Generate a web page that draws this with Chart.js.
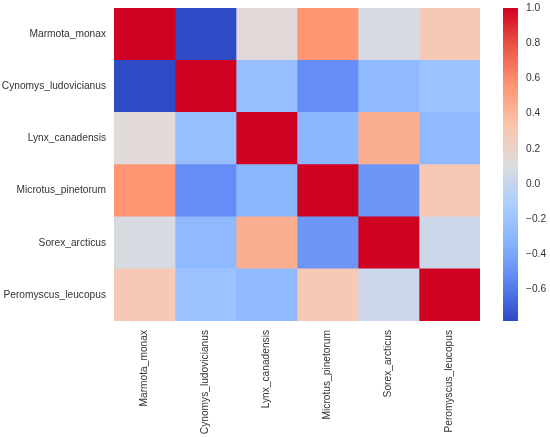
<!DOCTYPE html>
<html>
<head>
<meta charset="utf-8">
<script src="https://cdn.jsdelivr.net/npm/chart.js@4"></script>
<style>
  body { margin: 0; background: #fff; overflow: hidden; }
  #wrap { position: relative; width: 550px; height: 437px; overflow: hidden; }
  #heat { position: absolute; left: 0; top: -6px; }
  #bar { position: absolute; left: 490px; top: -6px; }
</style>
</head>
<body>
<div id="wrap">
  <canvas id="heat" width="490" height="443"></canvas>
  <canvas id="bar" width="60" height="443"></canvas>
</div>
<script>
// species, same order for rows and columns
const species = [
  'Marmota_monax',
  'Cynomys_ludovicianus',
  'Lynx_canadensis',
  'Microtus_pinetorum',
  'Sorex_arcticus',
  'Peromyscus_leucopus'
];

// correlation rows
const rowMarmota    = [ 1.00, -0.78,  0.13,  0.56,  0.08,  0.29];
const rowCynomys    = [-0.78,  1.00, -0.24, -0.51, -0.28, -0.21];
const rowLynx       = [ 0.13, -0.24,  1.00, -0.31,  0.44, -0.28];
const rowMicrotus   = [ 0.56, -0.51, -0.31,  1.00, -0.47,  0.29];
const rowSorex      = [ 0.08, -0.28,  0.44, -0.47,  1.00,  0.03];
const rowPeromyscus = [ 0.29, -0.21, -0.28,  0.29,  0.03,  1.00];
const corr = [rowMarmota, rowCynomys, rowLynx, rowMicrotus, rowSorex, rowPeromyscus];

// colour bar range and ticks
const vmin = -0.78;
const vmax = 1.0;
const cbTicks = [-0.6, -0.4, -0.2, 0.0, 0.2, 0.4, 0.6, 0.8, 1.0];

// coolwarm-ish anchors (a bit more saturated, like the picture)
const cmapStops = [
  [0.000, [46, 74, 196]],
  [0.125, [90, 132, 242]],
  [0.250, [135, 180, 255]],
  [0.375, [172, 206, 255]],
  [0.500, [222, 220, 220]],
  [0.625, [250, 196, 172]],
  [0.750, [255, 150, 115]],
  [0.875, [236, 88, 70]],
  [1.000, [208, 2, 33]]
];

function cmap(t) {
  t = Math.max(0, Math.min(1, t));
  for (let i = 1; i < cmapStops.length; i++) {
    const [t1, c1] = cmapStops[i];
    const [t0, c0] = cmapStops[i - 1];
    if (t <= t1) {
      const f = (t - t0) / (t1 - t0);
      const c = c0.map((v, k) => Math.round(v + (c1[k] - v) * f));
      return `rgb(${c[0]},${c[1]},${c[2]})`;
    }
  }
  return 'rgb(208,2,33)';
}
const colorOf = v => cmap((v - vmin) / (vmax - vmin));

const font = { family: '"Liberation Sans", Arial, sans-serif', size: 10.2 };
const textColor = '#333';

// one stacked horizontal dataset per column
const datasets = species.map((sp, j) => ({
  label: sp,
  data: species.map(() => 1),
  backgroundColor: corr.map(row => colorOf(row[j])),
  borderWidth: 0,
  barPercentage: 1,
  categoryPercentage: 1
}));

new Chart(document.getElementById('heat'), {
  type: 'bar',
  data: { labels: species, datasets },
  options: {
    indexAxis: 'y',
    responsive: false,
    animation: false,
    layout: { padding: { top: 2, right: 10 } },
    plugins: { legend: { display: false }, tooltip: { enabled: false } },
    scales: {
      x: {
        type: 'linear', stacked: true, min: 0, max: 6,
        grid: { display: false, drawTicks: false },
        border: { display: false },
        afterBuildTicks: s => { s.ticks = species.map((_, i) => ({ value: i + 0.5 })); },
        afterFit: s => { s.height = 116; },
        ticks: {
          autoSkip: false, minRotation: 90, maxRotation: 90, padding: 9,
          color: textColor, font,
          callback: (v, i) => species[i]
        }
      },
      y: {
        stacked: true,
        grid: { display: false, drawTicks: false },
        border: { display: false },
        afterFit: s => { s.width = 114; },
        ticks: { padding: 8, color: textColor, font }
      }
    }
  }
});

// colour bar
new Chart(document.getElementById('bar'), {
  type: 'bar',
  data: {
    labels: ['cb'],
    datasets: [{
      data: [[vmin, vmax]],
      borderWidth: 0,
      barPercentage: 1,
      categoryPercentage: 1,
      backgroundColor: ctx => {
        const area = ctx.chart.chartArea;
        if (!area) return '#ccc';
        const g = ctx.chart.ctx.createLinearGradient(0, area.bottom, 0, area.top);
        for (let i = 0; i <= 40; i++) g.addColorStop(i / 40, cmap(i / 40));
        return g;
      }
    }]
  },
  options: {
    responsive: false,
    animation: false,
    layout: { padding: { top: 2, left: 13, bottom: 116 } },
    plugins: { legend: { display: false }, tooltip: { enabled: false } },
    scales: {
      x: { display: false },
      y: {
        position: 'right', min: vmin, max: vmax,
        grid: { display: false, drawTicks: false },
        border: { display: false },
        afterBuildTicks: s => { s.ticks = cbTicks.map(v => ({ value: v })); },
        afterFit: s => { s.width = 32; },
        ticks: {
          padding: 8, color: textColor, font,
          callback: v => v.toFixed(1).replace('-', '\u2212')
        }
      }
    }
  }
});
</script>
</body>
</html>
